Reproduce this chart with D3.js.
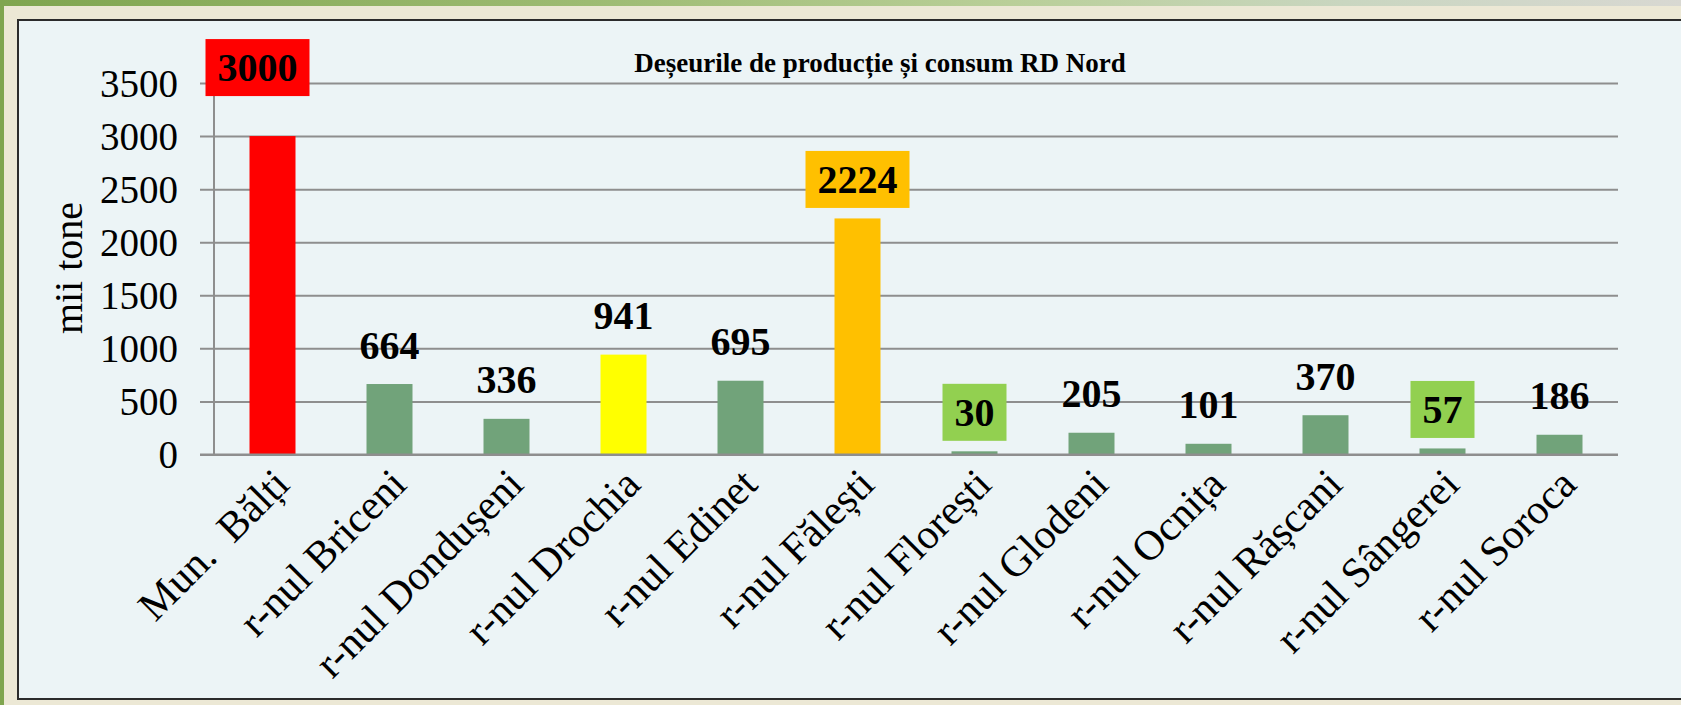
<!DOCTYPE html>
<html>
<head>
<meta charset="utf-8">
<script src="https://cdn.jsdelivr.net/npm/d3@7"></script>
<style>
html,body{margin:0;padding:0;background:#ece8d5;}
svg{display:block;}
</style>
</head>
<body>
<svg id="chart" width="1681" height="705"></svg>
<script>
// ---- data ----
const categories = ["Mun.  Bălți","r-nul Briceni","r-nul Dondușeni","r-nul Drochia","r-nul Edinet","r-nul Fălești","r-nul Florești","r-nul Glodeni","r-nul Ocnița","r-nul Rășcani","r-nul Sângerei","r-nul Soroca"];
const values = [3000, 664, 336, 941, 695, 2224, 30, 205, 101, 370, 57, 186];
const barColors = ["#ff0000","#71a37a","#71a37a","#ffff00","#71a37a","#ffc000","#71a37a","#71a37a","#71a37a","#71a37a","#71a37a","#71a37a"];
const labelBoxColors = ["#ff0000",null,null,null,null,"#ffc000","#92d050",null,null,null,"#92d050",null];
const yTicks = [0, 500, 1000, 1500, 2000, 2500, 3000, 3500];
const titleText = "Deșeurile de producție și consum RD Nord";
const yAxisTitle = "mii tone";

// ---- layout ----
const W = 1681, H = 705;
const svg = d3.select("#chart");
const serif = "'Liberation Serif','Times New Roman',serif";

// background decoration
const defs = svg.append("defs");
const g1 = defs.append("linearGradient").attr("id","topg").attr("x1","0").attr("x2","1").attr("y1","0").attr("y2","0");
g1.append("stop").attr("offset","0").attr("stop-color","#7fa54f");
g1.append("stop").attr("offset","0.35").attr("stop-color","#9dbb72");
g1.append("stop").attr("offset","0.6").attr("stop-color","#b9cf98");
g1.append("stop").attr("offset","0.8").attr("stop-color","#c9d6c0");
g1.append("stop").attr("offset","1").attr("stop-color","#d8d8d2");
svg.append("rect").attr("x",0).attr("y",0).attr("width",W).attr("height",6).attr("fill","url(#topg)");
svg.append("rect").attr("x",0).attr("y",0).attr("width",4).attr("height",H).attr("fill","#7fa54f");

// chart panel
svg.append("rect").attr("x",18).attr("y",20).attr("width",1700).attr("height",679)
  .attr("fill","#ecf4f6").attr("stroke","#2b2b2b").attr("stroke-width",2);

const plot = {left:214, right:1618, top:83, bottom:454.5};

const x = d3.scaleBand().domain(categories).range([plot.left, plot.right])
  .paddingInner(0.607).paddingOuter(0.3035);
const y = d3.scaleLinear().domain([0, 3500]).range([plot.bottom, plot.top]);

// gridlines + ticks (via axis)
const yAxis = d3.axisLeft(y).tickValues(yTicks).tickSize(-(plot.right - plot.left)).tickFormat("");
const gy = svg.append("g").attr("transform",`translate(${plot.left},0)`).call(yAxis);
gy.select(".domain").remove();
gy.selectAll(".tick line").attr("stroke","#8e8e8e").attr("stroke-width",2).attr("x1",-14);

// y tick labels
svg.append("g").selectAll("text").data(yTicks).join("text")
  .attr("x", 178).attr("y", d => y(d)).attr("dy","0.35em")
  .attr("text-anchor","end").attr("font-family",serif).attr("font-size",39).attr("fill","#000")
  .text(d => d);

// y axis line
svg.append("line").attr("x1",plot.left).attr("x2",plot.left).attr("y1",y(3500)).attr("y2",y(0))
  .attr("stroke","#8e8e8e").attr("stroke-width",2);

// bars
svg.append("g").selectAll("rect").data(values).join("rect")
  .attr("x",(d,i)=>x(categories[i])).attr("width",x.bandwidth())
  .attr("y",d=>y(d)).attr("height",d=>y(0)-y(d))
  .attr("fill",(d,i)=>barColors[i]);

// x axis line redraw over bars
svg.append("line").attr("x1",plot.left-14).attr("x2",plot.right).attr("y1",y(0)).attr("y2",y(0))
  .attr("stroke","#8e8e8e").attr("stroke-width",2);

// data labels
const fsLab = 40;
const lg = svg.append("g");
values.forEach((v,i)=>{
  let cx = x(categories[i]) + x.bandwidth()/2;
  let cy = y(v) - 39;
  if (i === 0) { cx -= 15; cy = y(v) - 68.5; }
  const txt = String(v);
  if (labelBoxColors[i]) {
    const bw = txt.length * fsLab * 0.5 + 24, bh = 57;
    lg.append("rect").attr("x",cx-bw/2).attr("y",cy-bh/2).attr("width",bw).attr("height",bh)
      .attr("fill",labelBoxColors[i]);
  }
  lg.append("text").attr("x",cx).attr("y",cy).attr("dy","0.34em").attr("text-anchor","middle")
    .attr("font-family",serif).attr("font-weight","bold").attr("font-size",fsLab).attr("fill","#000")
    .text(txt);
});

// x labels
svg.append("g").selectAll("text").data(categories).join("text")
  .attr("transform",d=>`translate(${x(d)+x.bandwidth()/2+19},${plot.bottom+32}) rotate(-45)`)
  .attr("text-anchor","end").attr("font-family",serif).attr("font-size",42).attr("fill","#000")
  .attr("xml:space","preserve").style("white-space","pre")
  .text(d=>d);

// title
svg.append("text").attr("x",880).attr("y",71.5).attr("text-anchor","middle")
  .attr("font-family",serif).attr("font-weight","bold").attr("font-size",27).attr("fill","#000")
  .text(titleText);

// y axis title
svg.append("text").attr("transform","translate(68,268) rotate(-90)").attr("dy","0.35em")
  .attr("text-anchor","middle").attr("font-family",serif).attr("font-size",40).attr("fill","#000")
  .text(yAxisTitle);
</script>
</body>
</html>
